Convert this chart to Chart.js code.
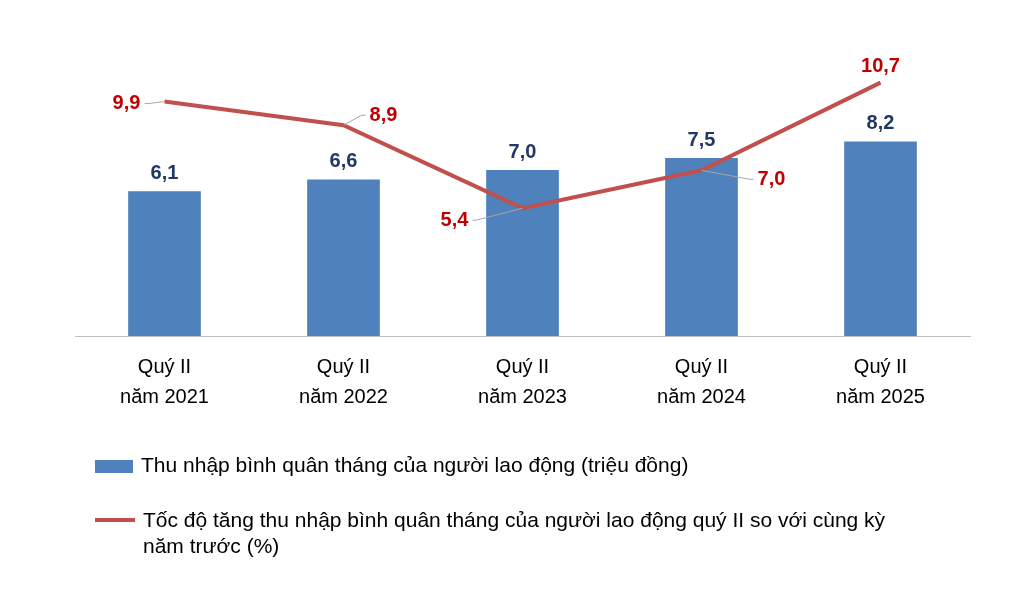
<!DOCTYPE html>
<html>
<head>
<meta charset="utf-8">
<script src="https://cdn.jsdelivr.net/npm/chart.js@4/dist/chart.umd.min.js"></script>
<style>
  body { margin: 0; background: #fff; font-family: "Liberation Sans", Arial, sans-serif; }
  #wrap { position: relative; width: 1020px; height: 593px; }
  .leg { position: absolute; left: 95px; font-size: 21px; color: #000; line-height: 26px; }
  .sw { display: inline-block; vertical-align: middle; margin-right: 8px; }
</style>
</head>
<body>
<div id="wrap">
  <canvas id="c" width="1020" height="593"></canvas>
  <div class="leg" style="top:452px"><span class="sw" style="width:38px;height:13px;background:#4F81BD"></span>Thu nhập bình quân tháng của người lao động (triệu đồng)</div>
  <div class="leg" style="top:507px;display:flex"><span class="sw" style="width:40px;height:4px;background:#C0504D;margin-top:11px;vertical-align:top"></span><span>Tốc độ tăng thu nhập bình quân tháng của người lao động quý II so với cùng kỳ<br>năm trước (%)</span></div>
</div>
<script>
// values
var categories = [['Quý II', 'năm 2021'], ['Quý II', 'năm 2022'], ['Quý II', 'năm 2023'], ['Quý II', 'năm 2024'], ['Quý II', 'năm 2025']];
var income = [6.1, 6.6, 7.0, 7.5, 8.2];
var growth = [9.9, 8.9, 5.4, 7.0, 10.7];

// label offsets for the line values (with leader lines)
var lineLabelPos = [[-38, 2], [40, -10], [-68, 12], [70, 9], [0, -16]];

function fmt(v) { return v.toFixed(1).replace('.', ','); }

var labelsPlugin = {
  id: 'labels',
  afterDatasetsDraw: function (chart) {
    var ctx = chart.ctx;
    ctx.save();
    ctx.font = 'bold 20px "Liberation Sans", Arial, sans-serif';
    ctx.textAlign = 'center';
    ctx.textBaseline = 'middle';
    chart.getDatasetMeta(0).data.forEach(function (b, i) {
      ctx.fillStyle = '#1F3864';
      ctx.fillText(fmt(income[i]), b.x, b.y - 18);
    });
    chart.getDatasetMeta(1).data.forEach(function (p, i) {
      var o = lineLabelPos[i];
      var lx = p.x + o[0], ly = p.y + o[1];
      if (i !== 4) {
        ctx.strokeStyle = '#A6A6A6';
        ctx.lineWidth = 1;
        ctx.beginPath();
        var ex = lx + (o[0] < 0 ? 22 : -22);
        ctx.moveTo(p.x, p.y);
        ctx.lineTo(ex, ly);
        ctx.lineTo(ex + (o[0] < 0 ? -4 : 4), ly);
        ctx.stroke();
      }
      ctx.fillStyle = '#C00000';
      ctx.fillText(fmt(growth[i]), lx, ly);
    });
    ctx.restore();
  }
};

new Chart(document.getElementById('c'), {
  data: {
    labels: categories,
    datasets: [
      { type: 'bar', data: income, backgroundColor: '#4F81BD', barThickness: 72, order: 2 },
      { type: 'line', data: growth, borderColor: '#C0504D', borderWidth: 4, pointRadius: 0, tension: 0, order: 1 }
    ]
  },
  options: {
    responsive: false,
    animation: false,
    layout: { padding: { left: 75, right: 50, top: 40, bottom: 165 } },
    plugins: { legend: { display: false }, tooltip: { enabled: false } },
    scales: {
      x: {
        grid: { display: false, drawTicks: false },
        border: { color: '#BFBFBF', width: 1 },
        ticks: { color: '#000', font: { family: '"Liberation Sans", Arial, sans-serif', size: 20, lineHeight: 1.5 }, padding: 16 }
      },
      y: { display: false, min: 0, max: 12.5 }
    }
  },
  plugins: [labelsPlugin]
});
</script>
</body>
</html>
